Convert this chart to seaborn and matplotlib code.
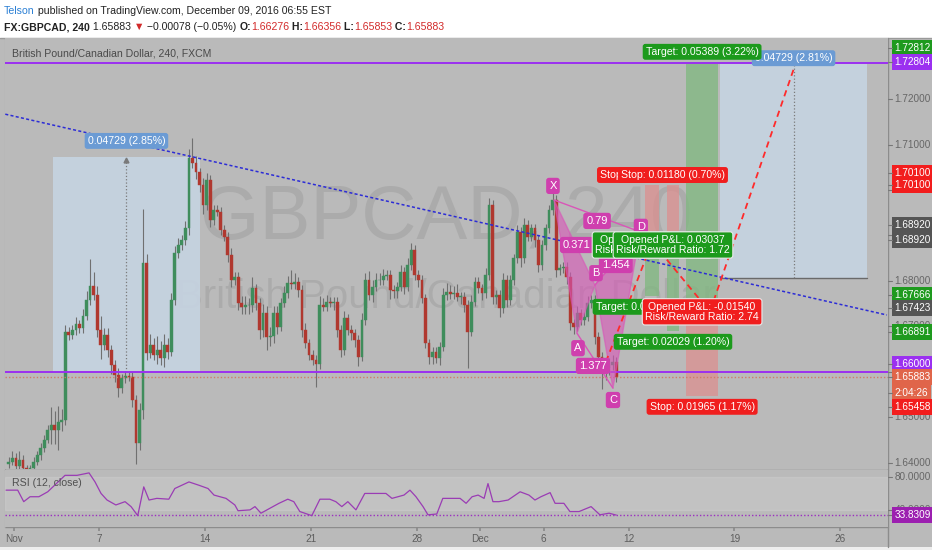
import matplotlib
matplotlib.use('Agg')
import matplotlib.pyplot as plt
from matplotlib.patches import Rectangle, Polygon
import numpy as np
import pandas as pd
import seaborn as sns

# GBPCAD 4h closes, Nov 1 - Dec 9 2016 (six bars per trading day)
first_open = 1.6398
closes = [
    1.6402, 1.6410, 1.6393, 1.6406, 1.6388, 1.6384,  # Nov 1
    1.6388, 1.6402, 1.6417, 1.6432, 1.6450, 1.6472,
    1.6483, 1.6472, 1.6490, 1.6494, 1.6688, 1.6681,
    1.6692, 1.6705, 1.6696, 1.6723, 1.6758, 1.6789,
    1.6769, 1.6692, 1.6659, 1.6681, 1.6648, 1.6615,  # Nov 7
    1.6593, 1.6564, 1.6586, 1.6591, 1.6589, 1.6538,
    1.6443, 1.6516, 1.6839, 1.6641, 1.6659, 1.6637,
    1.6648, 1.6630, 1.6659, 1.6644, 1.6758, 1.6861,
    1.6879, 1.6890, 1.6916, 1.7070, 1.7059, 1.7039,
    1.7011, 1.6967, 1.7022, 1.6934, 1.6956, 1.6952,  # Nov 14
    1.6912, 1.6897, 1.6857, 1.6802, 1.6809, 1.6752,
    1.6743, 1.6747, 1.6747, 1.6784, 1.6752, 1.6692,
    1.6729, 1.6677, 1.6679, 1.6729, 1.6699, 1.6752,
    1.6773, 1.6795, 1.6793, 1.6798, 1.6780, 1.6692,
    1.6663, 1.6637, 1.6626, 1.6617, 1.6747, 1.6743,  # Nov 21
    1.6754, 1.6752, 1.6754, 1.6692, 1.6648, 1.6718,
    1.6692, 1.6685, 1.6670, 1.6633, 1.6714, 1.6802,
    1.6769, 1.6787, 1.6802, 1.6802, 1.6811, 1.6813,
    1.6780, 1.6778, 1.6787, 1.6820, 1.6787, 1.6835,
    1.6868, 1.6813, 1.6802, 1.6762, 1.6663, 1.6633,  # Nov 28
    1.6644, 1.6630, 1.6655, 1.6769, 1.6776, 1.6771,
    1.6773, 1.6765, 1.6765, 1.6747, 1.6688, 1.6754,
    1.6798, 1.6784, 1.6773, 1.6813, 1.6967, 1.6765,
    1.6769, 1.6740, 1.6802, 1.6758, 1.6802, 1.6850,
    1.6908, 1.6850, 1.6923, 1.6897, 1.6916, 1.6890,  # Dec 5
    1.6835, 1.6879, 1.6916, 1.6956, 1.6978, 1.6824,
    1.6828, 1.6831, 1.6809, 1.6707, 1.6699, 1.6729,
    1.6714, 1.6721, 1.6751, 1.6758, 1.6677, 1.6633,
    1.6597, 1.6608, 1.6615, 1.6622, 1.65883,
]
# wick length beyond the body, in pips
wick_up = [
    10, 15, 12, 20, 10, 8,   8, 10, 8, 12, 10, 10,   40, 30, 35, 25, 15, 10,
    10, 15, 10, 15, 20, 60,  30, 20, 30, 15, 15, 10,  10, 15, 10, 10, 10, 10,
    10, 15, 120, 20, 25, 15, 30, 20, 25, 15, 15, 15,  15, 10, 15, 20, 45, 15,
    10, 15, 15, 10, 10, 10,  10, 10, 10, 15, 10, 10,  15, 20, 15, 25, 10, 10,
    20, 15, 20, 15, 15, 10,  15, 15, 30, 20, 10, 10,  15, 10, 10, 10, 20, 15,
    15, 10, 10, 10, 10, 15,  10, 10, 10, 10, 15, 15,  20, 15, 15, 15, 15, 10,
    10, 10, 10, 15, 10, 15,  15, 10, 10, 10, 10, 10,  10, 10, 10, 15, 20, 15,
    15, 20, 10, 10, 10, 15,  10, 10, 10, 15, 15, 10,  10, 10, 15, 10, 10, 10,
    15, 10, 15, 10, 10, 10,  10, 10, 10, 10, 20, 10,  10, 10, 10, 10, 10, 15,
    10, 10, 15, 10, 10, 10,  10, 15, 15, 15, 10,
]
wick_dn = [
    10, 8, 10, 8, 6, 4,      6, 8, 8, 10, 8, 6,      30, 30, 45, 20, 10, 10,
    8, 10, 10, 10, 8, 10,    10, 15, 30, 10, 15, 20,  15, 20, 10, 10, 10, 15,
    45, 15, 20, 15, 10, 10,  20, 15, 20, 15, 10, 10,  10, 10, 10, 15, 10, 15,
    15, 20, 10, 15, 10, 10,  10, 10, 15, 15, 10, 15,  15, 15, 20, 15, 15, 20,
    15, 30, 20, 15, 15, 10,  10, 10, 10, 10, 15, 15,  10, 10, 10, 50, 10, 10,
    10, 10, 15, 15, 15, 10,  10, 15, 15, 20, 10, 10,  10, 15, 10, 10, 10, 10,
    20, 15, 15, 10, 15, 10,  10, 10, 15, 10, 10, 15,  15, 10, 15, 10, 10, 10,
    10, 10, 15, 15, 80, 10,  10, 10, 15, 10, 10, 15,  15, 20, 10, 15, 10, 10,
    10, 20, 10, 10, 10, 15,  15, 10, 10, 10, 10, 15,  10, 10, 15, 15, 15, 10,
    10, 10, 10, 10, 15, 15,  35, 15, 15, 10, 10,
]

day_index = [0, 4, 9, 14, 19, 22, 25, 29, 34, 39]
day_labels = ['Nov', '7', '14', '21', '28', 'Dec', '6', '12', '19', '26']

# RSI(12) traced at (bar, value)
rsi_points = [
    (-0.8, 64), (2.5, 64), (4.2, 50), (6.0, 56), (8.5, 56), (11.0, 62), (15.9, 82),
    (19.3, 82), (22.7, 85), (24.4, 74), (26.1, 60), (27.8, 52), (30.3, 46), (32.9, 50),
    (34.6, 44), (36.5, 33), (38.2, 68), (39.7, 52), (41.9, 54), (45.3, 53), (47.0, 66),
    (51.0, 74), (53.8, 70), (56.4, 66), (58.1, 58), (61.5, 54), (64.0, 46), (64.9, 39),
    (68.3, 40), (69.7, 44), (71.4, 36), (74.8, 44), (76.5, 48), (79.0, 53), (80.7, 50),
    (82.4, 38), (85.8, 33), (88.1, 53), (90.9, 53), (92.6, 50), (94.3, 44), (96.0, 50),
    (98.3, 40), (100.8, 60), (103.4, 60), (106.8, 60), (108.5, 54), (111.9, 58),
    (113.6, 64), (115.3, 56), (117.3, 44), (118.7, 34), (121.2, 35), (122.9, 54),
    (127.8, 54), (129.5, 48), (131.2, 56), (132.9, 58), (134.6, 54), (135.7, 72),
    (137.1, 50), (138.8, 50), (141.4, 52), (144.8, 62), (147.3, 58), (149.0, 52),
    (150.7, 56), (153.3, 61), (154.7, 48), (157.2, 48), (158.9, 38), (161.5, 38),
    (164.9, 44), (167.4, 34), (170.0, 36), (171.7, 34), (172.0, 33.8),
]
rsi_last = 33.8309

trend_line = [(-2.5, 1.71694), (248.7, 1.67250)]
purple_levels = [1.72804, 1.66000]
last_price = 1.65883

harmonic = {'X': (154.4, 1.6978), 'A': (160.9, 1.6685), 'B': (166.0, 1.6791),
            'C': (171.1, 1.6564), 'D': (178.8, 1.6908)}
harmonic_tags = [('X', 154.1, 1.7009), ('A', 161.2, 1.6652), ('B', 166.3, 1.6817),
                 ('C', 171.1, 1.6538), ('D', 179.0, 1.6919), ('0.79', 166.6, 1.6932),
                 ('0.371', 160.9, 1.6879), ('1.454', 171.9, 1.6835), ('1.377', 165.4, 1.6613)]

# price range measurements (x0, x1, low, high)
measure1 = (12.5, 54.1, 1.66000, 1.70729)
measure2 = (201.4, 243.1, 1.68075, 1.72804)

long_pos = dict(x0=191.8, x1=200.9, entry=1.67423, target=1.72812, stop=1.65458)
short1 = dict(x0=180.2, x1=184.1, entry=1.68920, target=1.67666, stop=1.70100)
short2 = dict(x0=186.4, x1=189.8, entry=1.68920, target=1.66891, stop=1.70100)

projection = [(169.1, 1.6622), (182.2, 1.6886), (195.8, 1.6758), (199.7, 1.6758), (223.0, 1.7282)]

# right-hand scale tags (text, shown at price, colour)
price_tags = [
    ('1.72812', 1.7312, '#1e9a1e'), ('1.72804', 1.7282, '#9b30f0'),
    ('1.70100', 1.7037, '#f21d1d'), ('1.70100', 1.7011, '#f21d1d'),
    ('1.68920', 1.6923, '#555555'), ('1.68920', 1.6890, '#555555'),
    ('1.67666', 1.6769, '#1e9a1e'), ('1.67423', 1.6740, '#555555'),
    ('1.66891', 1.6688, '#1e9a1e'), ('1.66000', 1.6617, '#9b30f0'),
    ('1.65883', 1.6589, '#e0654a'), ('2:04:26', 1.6553, '#e0654a'),
    ('1.65458', 1.6523, '#f21d1d'),
]
price_ticks = [1.64, 1.65, 1.66, 1.67, 1.68, 1.69, 1.70, 1.71, 1.72]

W, H = 932, 550
BG = '#bababa'
sns.set_theme(style='white')
plt.rcParams['font.family'] = ['Liberation Sans', 'DejaVu Sans']

fig = plt.figure(figsize=(W / 100, H / 100), dpi=100, facecolor=BG)

# chrome layer in pixel units
cax = fig.add_axes([0, 0, 1, 1], zorder=-5)
cax.set_xlim(0, W)
cax.set_ylim(H, 0)
cax.set_axis_off()
cax.add_patch(Rectangle((0, 0), W, 37.5, fc='white', ec='none'))
cax.add_patch(Rectangle((0, 547), W, 3, fc='#eeeeee', ec='none'))
cax.plot([0, W], [37.5, 37.5], color='#9a9a9a', lw=1)
cax.plot([888, 888], [38, 547], color='#8c8c8c', lw=1)
cax.plot([5, 888], [469.5, 469.5], color='#8c8c8c', lw=1)
cax.plot([5, 888], [527, 527], color='#8c8c8c', lw=1)
cax.plot([5, 5], [38, 527], color='#a0a0a0', lw=0.8)

def chain(pieces, x, y, fs):
    t = cax.text(x, y, pieces[0][0], fontsize=fs, fontweight=pieces[0][1], color=pieces[0][2],
                 ha='left', va='bottom')
    for txt, fw, col in pieces[1:]:
        t = cax.annotate(txt, xy=(1, 0), xycoords=t, fontsize=fs, fontweight=fw, color=col,
                         ha='left', va='bottom')

chain([('Telson', 'normal', '#2a7fd4'),
       (' published on TradingView.com, December 09, 2016 06:55 EST', 'normal', '#222222')], 4, 16, 7.6)
dark, red = '#222222', '#d22a2a'
chain([('FX:GBPCAD, 240', 'bold', dark), (' 1.65883 ', 'normal', dark), ('\u25bc', 'normal', red),
       (' \u22120.00078 (\u22120.05%) ', 'normal', dark), ('O:', 'bold', dark), ('1.66276', 'normal', red),
       (' H:', 'bold', dark), ('1.66356', 'normal', red), (' L:', 'bold', dark), ('1.65853', 'normal', red),
       (' C:', 'bold', dark), ('1.65883', 'normal', red)], 4, 32, 7.6)

L, R = 5, 888
ax = fig.add_axes([L / W, (H - 469) / H, (R - L) / W, (469 - 38) / H])
rax = fig.add_axes([L / W, (H - 527) / H, (R - L) / W, (527 - 470) / H], sharex=ax)
for a in (ax, rax):
    a.set_facecolor(BG)
    for s in a.spines.values():
        s.set_visible(False)
    a.tick_params(left=False, right=False, bottom=False, labelleft=False)
ax.tick_params(labelbottom=False)
ax.set_xlim(-1.1, 249.0)
ax.set_ylim(1.63862, 1.73344)
rax.set_ylim(19.2, 88.5)

# watermark
ax.text(0.5, 0.58, 'GBPCAD, 240', transform=ax.transAxes, ha='center', va='center',
        fontsize=55, color='#999999', alpha=0.45, zorder=0)
ax.text(0.5, 0.40, 'British Pound/Canadian Dollar', transform=ax.transAxes, ha='center',
        va='center', fontsize=29, color='#999999', alpha=0.45, zorder=0)
ax.text(0.008, 0.965, 'British Pound/Canadian Dollar, 240, FXCM', transform=ax.transAxes,
        ha='left', va='center', fontsize=7.6, color='#4a4a4a', zorder=20)

# measurement boxes
for x0, x1, lo, hi in (measure1, measure2):
    ax.add_patch(Rectangle((x0, lo), x1 - x0, hi - lo, fc='#c6d4e2', ec='none', alpha=0.9, zorder=0.5))
xm1 = (measure1[0] + measure1[1]) / 2
ax.plot([xm1, xm1], [measure1[2], measure1[3]], ls=':', color='#7a7a7a', lw=0.9, zorder=0.6)
ax.plot([xm1], [measure1[3] - 0.0006], marker='^', ms=3.5, color='#7a7a7a', zorder=0.6)
xm2 = (measure2[0] + measure2[1]) / 2
ax.plot([xm2, xm2], [measure2[2], measure2[3]], ls=':', color='#7a7a7a', lw=0.9, zorder=0.6)
ax.plot([measure2[0], measure2[1]], [measure2[2], measure2[2]], color='#6a6a6a', lw=1, zorder=0.6)

# position tool zones
def zones(p, z):
    ax.add_patch(Rectangle((p['x0'], p['entry']), p['x1'] - p['x0'], p['target'] - p['entry'],
                           fc='#7fb87f', ec='none', alpha=0.75, zorder=z))
    ax.add_patch(Rectangle((p['x0'], p['entry']), p['x1'] - p['x0'], p['stop'] - p['entry'],
                           fc='#dc9090', ec='none', alpha=0.75, zorder=z))
zones(short1, 0.7)
zones(short2, 0.7)
zones(long_pos, 0.7)

# candles
c = np.array(closes)
o = np.r_[first_open, c[:-1]]
x = np.arange(len(c))
hi = np.maximum(o, c) + np.array(wick_up) * 1e-4
lo = np.minimum(o, c) - np.array(wick_dn) * 1e-4
cols = np.where(c >= o, '#3f8d5c', '#b0382f')
ax.vlines(x, lo, hi, color='#707070', lw=0.8, zorder=2)
body = np.where(np.abs(c - o) < 0.00008, 0.00008, c - o)
ax.bar(x, body, bottom=o, width=0.8, color=cols, edgecolor=cols, lw=0.3, zorder=3)

# lines
tl = pd.DataFrame(trend_line, columns=['bar', 'price'])
sns.lineplot(data=tl, x='bar', y='price', ax=ax, color='#2c2cd6', lw=1.1, linestyle=(0, (2, 1.5)),
             sort=False, estimator=None, zorder=4)
for lv in purple_levels:
    ax.axhline(lv, color='#9b30f0', lw=1.4, zorder=4)
ax.axhline(last_price, color='#d07a68', lw=1.0, ls=(0, (1, 1.5)), zorder=4)

# harmonic pattern
hp = harmonic
pink = '#d955b8'
for tri in (('X', 'A', 'B'), ('B', 'C', 'D')):
    ax.add_patch(Polygon([hp[k] for k in tri], closed=True, fc=pink, ec=pink, alpha=0.6, lw=1, zorder=5))
for a_, b_ in (('X', 'D'), ('B', 'D'), ('A', 'C')):
    seg = pd.DataFrame([hp[a_], hp[b_]], columns=['bar', 'price'])
    sns.lineplot(data=seg, x='bar', y='price', ax=ax, color=pink, lw=1, sort=False, estimator=None, zorder=5)

pj = pd.DataFrame(projection, columns=['bar', 'price'])
sns.lineplot(data=pj, x='bar', y='price', ax=ax, color='#ff2a2a', lw=1.3, linestyle=(0, (3.5, 2.5)),
             sort=False, estimator=None, zorder=6)

def tag(a, xx, yy, txt, fc, z, fs=7.6, ec='none'):
    a.text(xx, yy, txt, ha='center', va='center', color='white', fontsize=fs, zorder=z,
           linespacing=1.05,
           bbox=dict(boxstyle='round,pad=0.28,rounding_size=0.25', fc=fc, ec=ec, lw=0.8))

for txt, xx, yy in harmonic_tags:
    tag(ax, xx, yy, txt, '#cf3fae', 7, fs=8)

tag(ax, xm1, 1.7108, '0.04729 (2.85%)', '#6b9bd4', 8)
tag(ax, xm2, 1.7290, '0.04729 (2.81%)', '#6b9bd4', 8)

green, redc = '#1c9a1c', '#f01e1e'
def pos_tags(p, rr, z, pnl_col, pnl, tgt_y, pnl_y, stop_y):
    xc = (p['x0'] + p['x1']) / 2
    d_t = abs(p['target'] - p['entry'])
    d_s = abs(p['stop'] - p['entry'])
    tag(ax, xc, tgt_y, f"Target: {d_t:.5f} ({d_t / p['entry'] * 100:.2f}%)", green, z)
    tag(ax, xc, stop_y, f"Stop: {d_s:.5f} ({d_s / p['entry'] * 100:.2f}%)", redc, z)
    tag(ax, xc, pnl_y, f"Opened P&L: {pnl}\nRisk/Reward Ratio: {rr}", pnl_col, z, ec='#eaeaea')

pos_tags(short1, '1.06', 10, green, '0.03037', 1.6743, 1.6879, 1.7033)
pos_tags(short2, '1.72', 11, green, '0.03037', 1.6666, 1.6879, 1.7033)
pos_tags(long_pos, '2.74', 12, redc, '-0.01540', 1.7304, 1.6732, 1.6523)

# RSI pane
rsi = pd.DataFrame(rsi_points, columns=['bar', 'rsi'])
rax.axhspan(40, 80, color='white', alpha=0.12, zorder=0)
sns.lineplot(data=rsi, x='bar', y='rsi', ax=rax, color='#9a3cb4', lw=0.9, sort=False, estimator=None)
rax.axhline(rsi_last, color='#9b30c0', lw=1.0, ls=(0, (1, 1.5)))
rax.text(0.008, 0.78, 'RSI (12, close)', transform=rax.transAxes, ha='left', va='center',
         fontsize=7.6, color='#505050')
rax.set_xlabel('')
rax.set_ylabel('')
ax.set_xlabel('')
ax.set_ylabel('')

rax.set_xticks([6 * d + 1.5 for d in day_index])
rax.set_xticklabels(day_labels, fontsize=7.2, color='#5e5e5e')
rax.tick_params(axis='x', bottom=True, length=3, color='#8a8a8a', pad=2)

# right scale
tx = (894.5 - L) / (R - L)
ytf = ax.get_yaxis_transform()
for p in price_ticks:
    ax.text(tx, p, f'{p:.5f}', transform=ytf, ha='left', va='center', fontsize=7.2,
            color='#666666', clip_on=False, zorder=30)
    ax.plot([1.0, 1.0045], [p, p], transform=ytf, color='#777777', lw=0.8, clip_on=False)
for txt, p, col in price_tags:
    ax.text(tx, p, txt, transform=ytf, ha='left', va='center', fontsize=7.2, color='white',
            clip_on=False, zorder=31, bbox=dict(boxstyle='square,pad=0.3', fc=col, ec='none'))
    ax.plot([1.0, 1.0045], [p, p], transform=ytf, color='#777777', lw=0.8, clip_on=False, zorder=31)

rtf = rax.get_yaxis_transform()
for txt, p, col in (('80.0000', 80, None), ('40.0000', 40, None), ('33.8309', rsi_last, '#9c1fb0')):
    kw = dict(transform=rtf, ha='left', va='center', fontsize=7.2, clip_on=False)
    if col:
        rax.text(tx, p, txt, color='white', zorder=31,
                 bbox=dict(boxstyle='square,pad=0.3', fc=col, ec='none'), **kw)
    else:
        rax.text(tx, p, txt, color='#666666', zorder=30, **kw)
    rax.plot([1.0, 1.0045], [p, p], transform=rtf, color='#777777', lw=0.8, clip_on=False)

fig.savefig('out.png', dpi=100, facecolor=fig.get_facecolor())
